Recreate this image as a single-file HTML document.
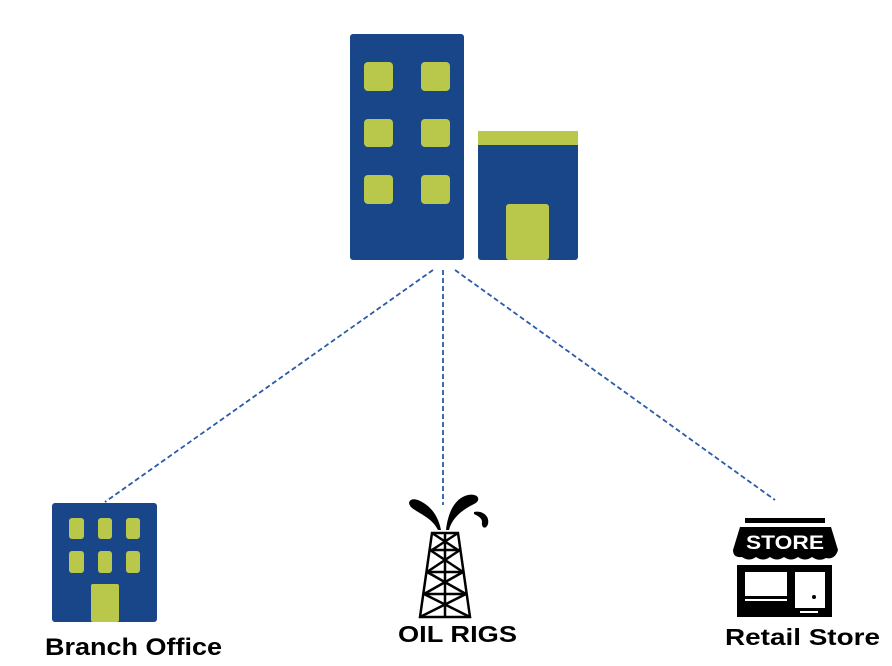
<!DOCTYPE html>
<html><head><style>
body{margin:0;background:#fff;width:892px;height:666px;overflow:hidden}
svg{display:block}
text{font-family:"Liberation Sans",sans-serif;font-weight:bold}
</style></head><body>
<svg width="892" height="666" viewBox="0 0 892 666">
<g fill="#184689">
<rect x="350" y="34" width="114" height="226" rx="3"/>
<rect x="478" y="131" width="100" height="129" rx="3"/>
<rect x="52" y="503" width="105" height="119" rx="3"/>
</g>
<g fill="#b9c84a">
<rect x="364" y="62" width="29" height="29" rx="4"/><rect x="421" y="62" width="29" height="29" rx="4"/>
<rect x="364" y="119" width="29" height="28" rx="4"/><rect x="421" y="119" width="29" height="28" rx="4"/>
<rect x="364" y="175" width="29" height="29" rx="4"/><rect x="421" y="175" width="29" height="29" rx="4"/>
<rect x="478" y="131" width="100" height="14"/>
<rect x="506" y="204" width="43" height="56" rx="3"/>
<rect x="69" y="518" width="15" height="21" rx="3"/><rect x="98" y="518" width="14" height="21" rx="3"/><rect x="126" y="518" width="14" height="21" rx="3"/>
<rect x="69" y="551" width="15" height="22" rx="3"/><rect x="98" y="551" width="14" height="22" rx="3"/><rect x="126" y="551" width="14" height="22" rx="3"/>
<rect x="91" y="584" width="28" height="38" rx="2"/>
</g>
<g stroke="#2b5aa8" stroke-width="1.8" stroke-dasharray="5,3" fill="none">
<line x1="433" y1="270" x2="105" y2="502"/>
<line x1="443" y1="270" x2="443" y2="505"/>
<line x1="455" y1="270" x2="775" y2="500"/>
</g>
<g fill="#000">
<path d="M441 530 C438 515 430 505 418 500 C410 497 406 503 412 508 C420 514 432 518 438 530Z"/>
<path d="M446 530 C448 512 455 498 468 495 C478 493 482 500 474 504 C462 510 452 518 449 530Z"/>
<path d="M474 512 C482 510 490 516 488 524 C486 530 481 528 482 522 C482 518 478 516 474 514Z"/>
</g>
<g stroke="#000" stroke-width="2.5" fill="none">
<path d="M432 533 L458 533 L470 617 L420 617 Z"/>
<line x1="445" y1="533" x2="445" y2="617"/>
<line x1="430" y1="550" x2="460" y2="550"/>
<line x1="427" y1="572" x2="463" y2="572"/>
<line x1="424" y1="594" x2="466" y2="594"/>
<path d="M432 533 L458 550 M458 533 L432 550 M430 550 L463 572 M460 550 L427 572 M427 572 L466 594 M463 572 L424 594 M424 594 L470 617 M466 594 L420 617"/>
</g>
<text x="398" y="642" font-size="23" textLength="119" lengthAdjust="spacingAndGlyphs">OIL RIGS</text>
<rect x="745" y="518" width="80" height="5" fill="#000"/>
<path d="M740 527 L831 527 L838 550 Q835 560 826 558 Q819 562 812 557 Q805 562 798 557 Q791 562 784 557 Q777 562 770 557 Q763 562 756 557 Q749 562 742 557 Q733 558 733 550 Z" fill="#000"/>
<text x="785" y="549" font-size="19" fill="#fff" text-anchor="middle" font-weight="normal" textLength="78" lengthAdjust="spacingAndGlyphs">STORE</text>
<rect x="737" y="565" width="95" height="52" fill="#000"/>
<rect x="745" y="572" width="42" height="24" fill="#fff"/>
<rect x="745" y="599" width="42" height="2" fill="#fff"/>
<rect x="795" y="572" width="30" height="36" fill="#fff"/>
<circle cx="814" cy="597" r="2" fill="#000"/>
<rect x="800" y="611" width="18" height="2" fill="#fff"/>
<text x="725" y="645" font-size="23" textLength="155" lengthAdjust="spacingAndGlyphs">Retail Store</text>
<text x="45" y="655" font-size="24" textLength="177" lengthAdjust="spacingAndGlyphs">Branch Office</text>
</svg>
</body></html>
